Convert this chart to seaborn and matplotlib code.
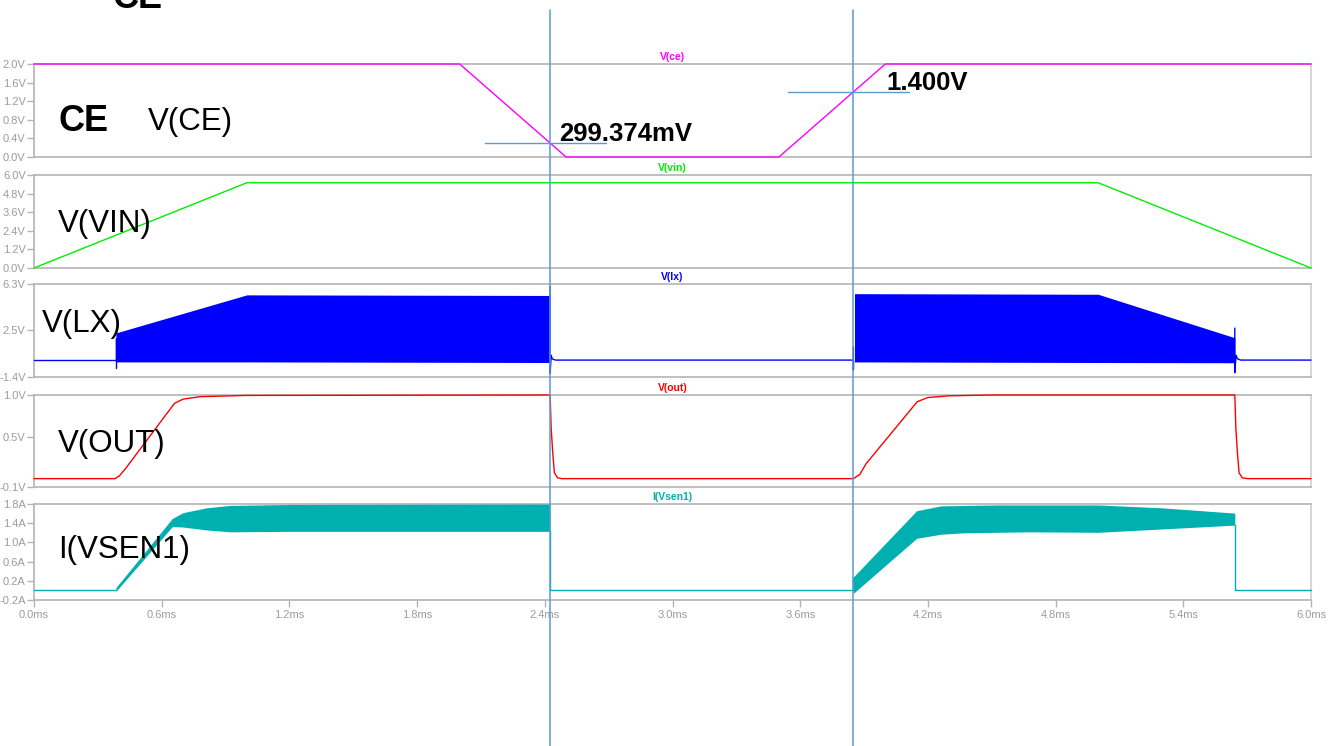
import matplotlib
matplotlib.use("Agg")
import matplotlib.pyplot as plt
from matplotlib.lines import Line2D
from matplotlib.transforms import blended_transform_factory
import pandas as pd
import seaborn as sns

# ---------------- waveform data (time in ms) ----------------
# V(CE): enable pin
CE_T = [0.0, 2.0, 2.5, 3.5, 4.0, 6.0]
CE_V = [2.0, 2.0, 0.0, 0.0, 2.0, 2.0]

# V(VIN): supply ramp
VIN_T = [0.0, 1.0, 5.0, 6.0]
VIN_V = [0.0, 5.5, 5.5, 0.0]

# V(LX): idle trace and edge spikes, split into segments
LX_T = [0.0, 0.385, 0.385, 0.385,
        2.425, 2.425, 2.43, 2.435, 2.45, 3.85, 3.85, 3.85,
        5.642, 5.642, 5.648, 5.655, 5.67, 6.0]
LX_V = [0.0, 0.0, 1.85, -0.68,
        6.1, -1.1, 0.4, 0.1, 0.0, 0.0, -0.8, 1.1,
        2.65, -1.05, 0.4, 0.1, 0.0, 0.0]
LX_SEG = [0, 0, 0, 0,
          1, 1, 1, 1, 1, 1, 1, 1,
          2, 2, 2, 2, 2, 2]
# V(LX): switching envelope of the two bursts
LX_B1_T = [0.385, 1.0, 2.425]
LX_B1_HI = [2.25, 5.40, 5.35]
LX_B1_LO = [-0.15, -0.15, -0.2]
LX_B2_T = [3.855, 5.0, 5.642]
LX_B2_HI = [5.5, 5.45, 1.85]
LX_B2_LO = [-0.15, -0.2, -0.22]

# V(OUT)
OUT_T = [0.0, 0.38, 0.40, 0.43, 0.66, 0.70, 0.78, 1.0, 2.425, 2.43, 2.437,
         2.445, 2.46, 2.48, 3.85, 3.88, 3.91, 4.15, 4.20, 4.30, 4.5, 5.642,
         5.647, 5.654, 5.662, 5.677, 5.70, 6.0]
OUT_V = [0.0, 0.0, 0.03, 0.12, 0.90, 0.95, 0.98, 0.995, 1.0, 0.6, 0.32,
         0.07, 0.01, 0.0, 0.0, 0.05, 0.18, 0.92, 0.97, 0.99, 1.0, 1.0,
         0.6, 0.32, 0.07, 0.01, 0.0, 0.0]

# I(Vsen1): idle trace and drops
I_T = [0.0, 0.385, 2.425, 2.425, 3.85, 3.85, 5.642, 5.642, 6.0]
I_V = [0.0, 0.0, 1.23, 0.0, 0.0, 0.28, 1.36, 0.0, 0.0]
I_SEG = [0, 0, 1, 1, 1, 1, 2, 2, 2]
# I(Vsen1): ripple envelope of the two bursts
I_B1_T = [0.385, 0.65, 0.70, 0.81, 0.92, 1.2, 2.425]
I_B1_HI = [0.06, 1.50, 1.62, 1.72, 1.77, 1.79, 1.80]
I_B1_LO = [-0.02, 1.33, 1.32, 1.26, 1.22, 1.23, 1.23]
I_B2_T = [3.85, 4.147, 4.26, 4.37, 4.52, 4.68, 5.0, 5.3, 5.642]
I_B2_HI = [0.28, 1.66, 1.76, 1.77, 1.78, 1.78, 1.78, 1.72, 1.61]
I_B2_LO = [-0.06, 1.085, 1.17, 1.20, 1.21, 1.22, 1.21, 1.28, 1.36]

# cursors
CURSOR_T = [2.4252, 3.85]
CURSOR_V = [0.299374, 1.400]

# axis ticks
X_TICKS = [0.0, 0.6, 1.2, 1.8, 2.4, 3.0, 3.6, 4.2, 4.8, 5.4, 6.0]
CE_TICKS = [0.0, 0.4, 0.8, 1.2, 1.6, 2.0]
VIN_TICKS = [0.0, 1.2, 2.4, 3.6, 4.8, 6.0]
LX_TICKS = [-1.4, 2.5, 6.3]
OUT_TICKS = [-0.1, 0.5, 1.0]
I_TICKS = [-0.2, 0.2, 0.6, 1.0, 1.4, 1.8]

# ---------------- styling ----------------
sns.set_style("white")
plt.rcParams["font.family"] = ["Liberation Sans", "DejaVu Sans"]

W, H = 1338, 746
fig = plt.figure(figsize=(W / 100, H / 100), dpi=100)

FRAME = "#b4b4b4"
TICKTXT = "#9c9c9c"
CURSOR = "#5b9bd5"

C_CE = "#ff00ff"
C_VIN = "#00ee00"
C_LX = "#0000ff"
C_OUT = "#ff0000"
C_I = "#00afaf"


def panel(top, bottom, ylim, yticks, unit, title, color, last=False):
    ax = fig.add_axes([34 / W, 1 - bottom / H, 1277 / W, (bottom - top) / H])
    ax.set_xlim(0, 6)
    ax.set_ylim(*ylim)
    ax.set_yticks(yticks)
    ax.set_yticklabels([f"{v:.1f}{unit}" for v in yticks])
    for side, sp in ax.spines.items():
        sp.set_visible(True)
        sp.set_color("#d0d0d0" if side == "right" else FRAME)
        sp.set_linewidth(1.2)
    ax.tick_params(axis="y", left=True, length=5, width=1, color=FRAME,
                   labelcolor=TICKTXT, labelsize=8, pad=1)
    if last:
        ax.set_xticks(X_TICKS)
        ax.set_xticklabels([f"{v:.1f}ms" for v in X_TICKS])
        ax.tick_params(axis="x", bottom=True, length=5, width=1, color=FRAME,
                       labelcolor=TICKTXT, labelsize=8, pad=2)
    else:
        ax.set_xticks([])
    ax.annotate(title, xy=(0.5, 1.0), xycoords="axes fraction",
                xytext=(0, 5), textcoords="offset points", ha="center",
                va="center", color=color, fontsize=7.5, fontweight="bold")
    return ax


def trace(ax, t, v, color, seg=None):
    df = pd.DataFrame({"t": t, "v": v, "seg": seg if seg is not None else [0] * len(t)})
    sns.lineplot(data=df, x="t", y="v", units="seg", estimator=None, sort=False,
                 color=color, linewidth=1.0, ax=ax, legend=False, zorder=4)
    for ln in ax.lines:
        ln.set_clip_on(False)
    ax.set_xlabel("")
    ax.set_ylabel("")


ax_ce = panel(64, 157, (0, 2.0), CE_TICKS, "V", "V(ce)", C_CE)
ax_vin = panel(175, 268, (0, 6.0), VIN_TICKS, "V", "V(vin)", C_VIN)
ax_lx = panel(284, 377, (-1.4, 6.3), LX_TICKS, "V", "V(lx)", C_LX)
ax_out = panel(395, 487, (-0.1, 1.0), OUT_TICKS, "V", "V(out)", C_OUT)
ax_i = panel(504, 600, (-0.2, 1.8), I_TICKS, "A", "I(Vsen1)", C_I, last=True)

trace(ax_ce, CE_T, CE_V, C_CE)
trace(ax_vin, VIN_T, VIN_V, C_VIN)

ax_lx.fill_between(LX_B1_T, LX_B1_LO, LX_B1_HI, color=C_LX, linewidth=0, zorder=3)
ax_lx.fill_between(LX_B2_T, LX_B2_LO, LX_B2_HI, color=C_LX, linewidth=0, zorder=3)
trace(ax_lx, LX_T, LX_V, C_LX, LX_SEG)

trace(ax_out, OUT_T, OUT_V, C_OUT)

ax_i.fill_between(I_B1_T, I_B1_LO, I_B1_HI, color=C_I, linewidth=0, zorder=3)
ax_i.fill_between(I_B2_T, I_B2_LO, I_B2_HI, color=C_I, linewidth=0, zorder=3)
trace(ax_i, I_T, I_V, C_I, I_SEG)

# cursors: full-height vertical lines plus value readouts on V(CE)
xfig = blended_transform_factory(ax_i.transData, fig.transFigure)
labels = [f"{CURSOR_V[0] * 1000:.3f}mV", f"{CURSOR_V[1]:.3f}V"]
offsets = [(6.5, 1.5), (24, 1.5)]
for t, v, lab, off in zip(CURSOR_T, CURSOR_V, labels, offsets):
    fig.add_artist(Line2D([t, t], [0, 1 - 10 / H], transform=xfig,
                          color=CURSOR, linewidth=1.1, zorder=10))
    ax_ce.plot([t - 0.305, t + 0.26], [v, v], color=CURSOR, linewidth=1.0,
               clip_on=False, zorder=5)
    ax_ce.annotate(lab, xy=(t, v), xytext=off, textcoords="offset points",
                   ha="left", va="baseline", fontsize=18.5, fontweight="bold",
                   color="black", zorder=6)

# signal names written inside the panels
def px_text(x, y, s, size, bold=False):
    fig.text(x / W, 1 - y / H, s, fontsize=size, ha="left", va="baseline",
             fontweight="bold" if bold else "normal", color="black")

px_text(112, 8, "CE", 26, bold=True)
px_text(58, 131, "CE", 26, bold=True)
px_text(148, 130, "V(CE)", 22.5)
px_text(58, 232, "V(VIN)", 22.5)
px_text(42, 332, "V(LX)", 22.5)
px_text(58, 452, "V(OUT)", 22.5)
px_text(58, 558, "I(VSEN1)", 22.5)

fig.savefig("out.png", dpi=100)
